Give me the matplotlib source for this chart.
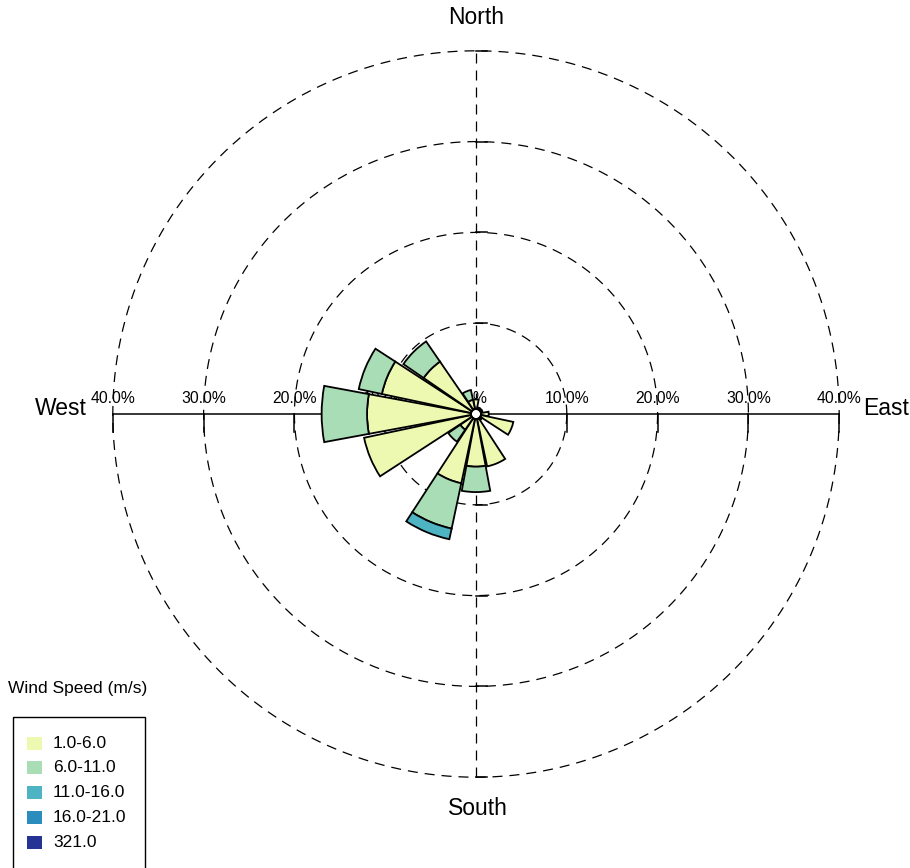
import numpy as np
import matplotlib
matplotlib.use("Agg")
import matplotlib.pyplot as plt
from matplotlib.patches import Wedge, Rectangle, Circle

plt.rcParams['font.family'] = ['Liberation Sans', 'DejaVu Sans']

# ---- data: frequency (%) of each speed class per direction sector ----
directions = [0, 22.5, 45, 67.5, 90, 112.5, 135, 157.5,
              180, 202.5, 225, 247.5, 270, 292.5, 315, 337.5]
freq_1_6 = [1.6, 0.5, 0.4, 0.6, 1.4, 4.2, 0.8, 5.9,
            5.8, 7.8, 2.1, 12.6, 12.0, 10.6, 7.0, 1.6]
freq_6_11 = [0, 0, 0, 0, 0, 0, 0, 0,
             2.8, 5.1, 1.6, 0, 5.0, 2.6, 2.7, 1.1]
freq_11_16 = [0, 0, 0, 0, 0, 0, 0, 0,
              0, 1.2, 0, 0, 0, 0, 0, 0]
freq_16_21 = [0] * 16
freq_21 = [0] * 16

speed_labels = ['1.0-6.0', '6.0-11.0', '11.0-16.0', '16.0-21.0', '321.0']
speed_colors = ['#EDF8B1', '#A8DDB5', '#4EB3C3', '#2B8CBE', '#253494']
rings = [10, 20, 30, 40]

bins = [freq_1_6, freq_6_11, freq_11_16, freq_16_21, freq_21]

# ---- figure ----
W, H = 910, 868
fig = plt.figure(figsize=(W / 100, H / 100), dpi=100)
ax = fig.add_axes([0, 0, 1, 1])
scale = 9.08          # pixels per percent
cx, cy = 476, 414     # pixel position of the centre
ax.set_xlim(-cx / scale, (W - cx) / scale)
ax.set_ylim(-(H - cy) / scale, cy / scale)
ax.axis('off')

dash = (0, (8, 5.6))
t = np.linspace(0, -2 * np.pi, 1441)
for r in rings:
    ax.plot(r * np.cos(t), r * np.sin(t), color='k', lw=0.9, ls=dash, zorder=1)

rmax = rings[-1]
ax.plot([-rmax, rmax], [0, 0], color='k', lw=1.1, zorder=1.5)
ax.plot([0, 0], [-rmax, rmax], color='k', lw=0.9, ls=dash, zorder=1.5)
for r in rings:
    for s in (-1, 1):
        ax.plot([s * r, s * r], [0, -2.0], color='k', lw=1.1, zorder=1.5)
        ax.plot([0, 1.2], [s * r, s * r], color='k', lw=1.1, zorder=1.5)

for r in rings:
    for s in (-1, 1):
        ax.text(s * r, 1.76, f'{r:.1f}%', ha='center', va='center',
                fontsize=11.3, zorder=1)
ax.text(-0.7, 1.76, '0.0%', ha='center', va='center', fontsize=11.3, zorder=1)

ax.text(0, 43.7, 'North', ha='center', va='center', fontsize=16.5)
ax.text(0.2, -43.4, 'South', ha='center', va='center', fontsize=16.5)
ax.text(-42.9, 0.66, 'West', ha='right', va='center', fontsize=16.5)
ax.text(42.6, 0.66, 'East', ha='left', va='center', fontsize=16.5)

# ---- wedges ----
r0 = 0.55
hw = 10.5
ax.add_patch(Circle((0, 0), r0, color='white', zorder=2))
cum = np.full(len(directions), r0)
for vals, col in zip(bins, speed_colors):
    for i, d in enumerate(directions):
        v = vals[i]
        if v <= 0:
            continue
        outer = cum[i] + v if cum[i] > r0 else max(v, r0 + 0.2)
        inner = cum[i]
        a = 90 - d
        ax.add_patch(Wedge((0, 0), outer, a - hw, a + hw, width=outer - inner,
                           facecolor=col, edgecolor='k', lw=1.3, zorder=3))
        cum[i] = outer

# ---- legend (pixel coordinates) ----
lg = fig.add_axes([0, 0, 1, 1], zorder=5)
lg.set_xlim(0, W)
lg.set_ylim(H, 0)
lg.axis('off')
lg.patch.set_alpha(0)
lg.text(8, 688, 'Wind Speed (m/s)', ha='left', va='center', fontsize=12.5)
lg.add_patch(Rectangle((13, 717), 132, 180, facecolor='none',
                       edgecolor='k', lw=1.0, clip_on=False))
for i, (lab, col) in enumerate(zip(speed_labels, speed_colors)):
    y = 743 + i * 24.8
    lg.add_patch(Rectangle((27, y - 6.5), 15, 13, facecolor=col,
                           edgecolor='none'))
    lg.text(53, y, lab, ha='left', va='center', fontsize=12.5)

fig.savefig('out.png', dpi=100)
